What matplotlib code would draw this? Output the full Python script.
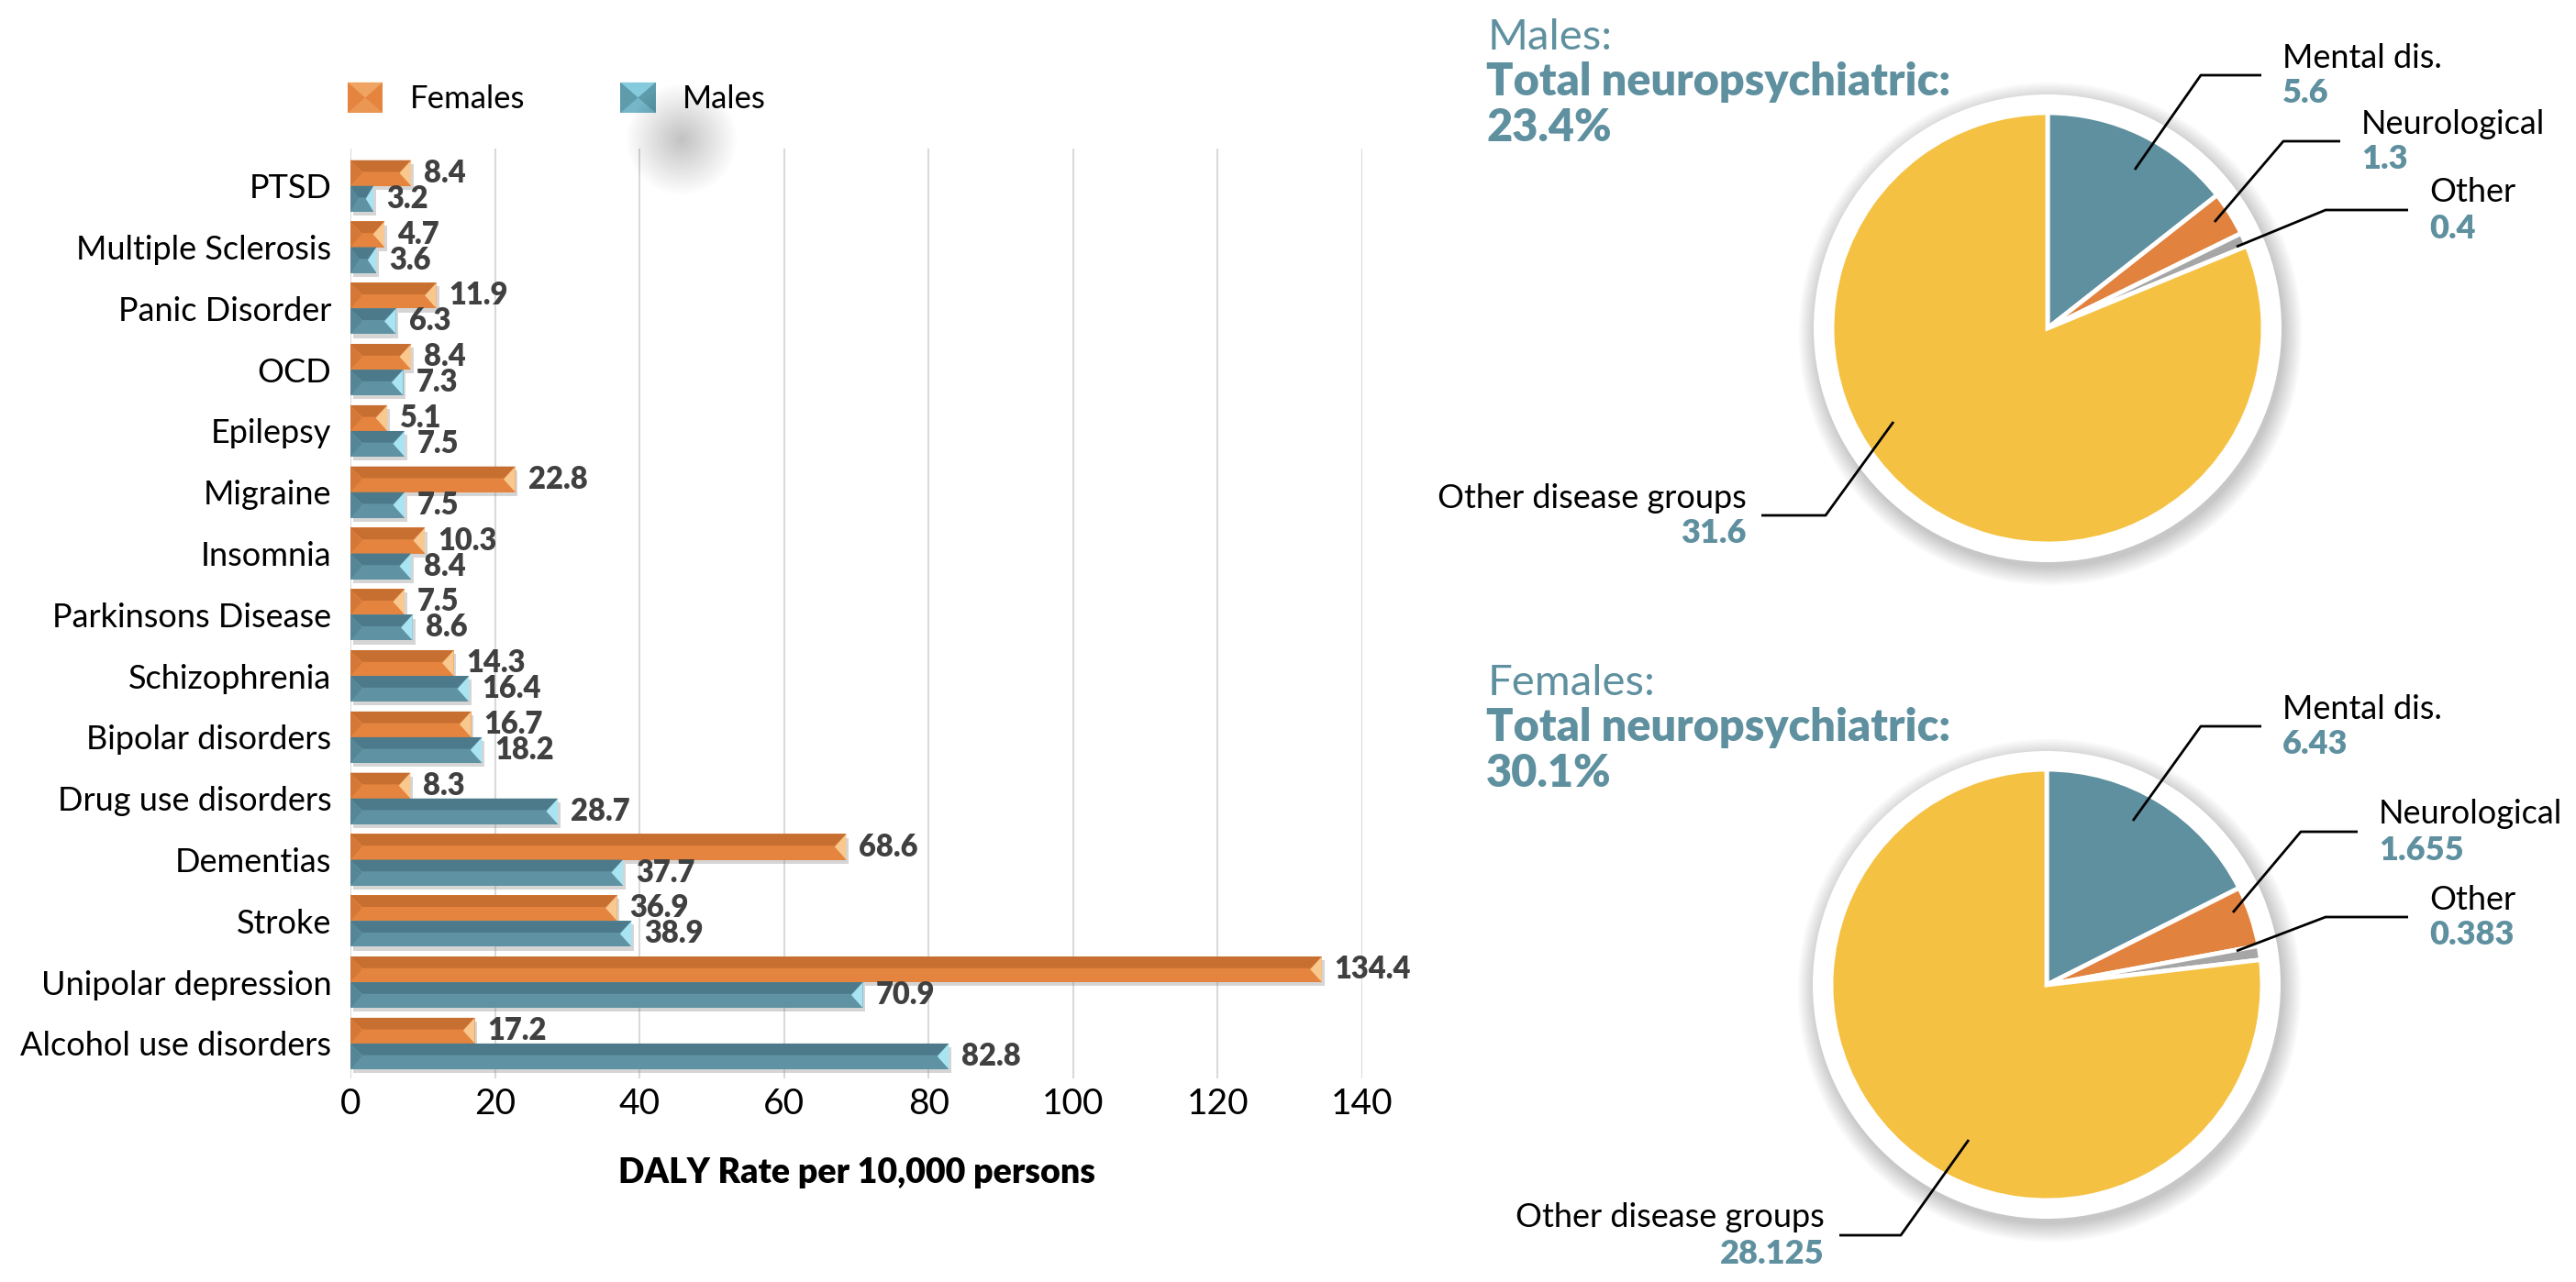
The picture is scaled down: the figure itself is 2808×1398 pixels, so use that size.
import numpy as np
import matplotlib
matplotlib.use("Agg")
import matplotlib.pyplot as plt
import matplotlib.patheffects as pe
from matplotlib.patches import Polygon, Circle, Patch, Rectangle
from matplotlib.legend_handler import HandlerBase

plt.rcParams['font.family'] = ['Lato', 'DejaVu Sans']

# ---- data ----
categories = ['PTSD', 'Multiple Sclerosis', 'Panic Disorder', 'OCD', 'Epilepsy',
              'Migraine', 'Insomnia', 'Parkinsons Disease', 'Schizophrenia',
              'Bipolar disorders', 'Drug use disorders', 'Dementias', 'Stroke',
              'Unipolar depression', 'Alcohol use disorders']
females = [8.4, 4.7, 11.9, 8.4, 5.1, 22.8, 10.3, 7.5, 14.3, 16.7, 8.3, 68.6, 36.9, 134.4, 17.2]
males = [3.2, 3.6, 6.3, 7.3, 7.5, 7.5, 8.4, 8.6, 16.4, 18.2, 28.7, 37.7, 38.9, 70.9, 82.8]
xticks = [0, 20, 40, 60, 80, 100, 120, 140]

pie_labels = ['Mental dis.', 'Neurological', 'Other', 'Other disease groups']
pie_males = [5.6, 1.3, 0.4, 31.6]
pie_females = [6.43, 1.655, 0.383, 28.125]
total_males = '23.4%'
total_females = '30.1%'

# ---- style ----
ORANGE, ORANGE_D, ORANGE_L = '#e4843f', '#c76e31', '#f8c88e'
TEAL, TEAL_D, TEAL_L = '#5f93a3', '#4c7a8a', '#a9e4f3'
PIE_COLORS = ['#5f909f', '#e1823f', '#a6a6a6', '#f5c142']
TXT_TEAL = '#5f909f'
W, H = 2808, 1398

fig = plt.figure(figsize=(W / 100, H / 100), dpi=100)

# ---------------- bar chart ----------------
ax = fig.add_axes([382 / W, 1 - 1176 / H, (1485 - 382) / W, (1176 - 162) / H])
n = len(categories)
ypos = np.arange(n)[::-1]
h = 0.42
shadow = [pe.SimplePatchShadow(offset=(2, -3), shadow_rgbFace='#888888', alpha=0.35), pe.Normal()]


def bevel_bars(yc, vals, main, dark, light):
    bars = ax.barh(yc, vals, height=h, color=main, zorder=3, path_effects=shadow)
    for y, v in zip(yc, vals):
        b = min(1.6, v / 3)
        top, bot = y + h / 2, y - h / 2
        ax.add_patch(Polygon([(0, top), (v, top), (v - b, y + 0.02), (b, y + 0.02)],
                             closed=True, color=dark, zorder=4, lw=0))
        ax.add_patch(Polygon([(0, top), (b, y), (0, bot)], closed=True,
                             color=dark, alpha=0.5, zorder=4, lw=0))
        ax.add_patch(Polygon([(v, top), (v - b, y), (v, bot)], closed=True,
                             color=light, zorder=5, lw=0))
        ax.annotate(f'{v:g}', (v, y), xytext=(10, 0), textcoords='offset points',
                    ha='left', va='center', fontsize=23.5, fontweight='heavy',
                    color='#404040', zorder=6)
    return bars


bevel_bars(ypos + h / 2, females, ORANGE, ORANGE_D, ORANGE_L)
bevel_bars(ypos - h / 2, males, TEAL, TEAL_D, TEAL_L)

ax.set_xlim(0, 140)
ax.set_ylim(-0.57, n - 1 + 0.61)
ax.set_xticks(xticks)
ax.set_yticks(ypos, categories)
ax.tick_params(axis='y', length=0, pad=15, labelsize=26)
ax.tick_params(axis='x', length=0, pad=7, labelsize=28)
ax.grid(axis='x', color='#d9d9d9', lw=1.5, zorder=0)
ax.set_axisbelow(True)
for s in ax.spines.values():
    s.set_visible(False)
ax.set_xlabel('DALY Rate per 10,000 persons', fontsize=27, fontweight='heavy', labelpad=29)


class BevelHandler(HandlerBase):
    def __init__(self, main, light):
        super().__init__()
        self.main, self.light = main, light

    def create_artists(self, legend, orig_handle, xdescent, ydescent, width, height, fontsize, trans):
        x0, y0 = -xdescent, -ydescent
        cx, cy = x0 + width / 2, y0 + height / 2
        sq = Rectangle((x0, y0), width, height, facecolor=self.main, lw=0, transform=trans)
        t1 = Polygon([(x0, y0 + height), (x0 + width, y0 + height), (cx, cy)],
                     facecolor=self.light, alpha=0.75, lw=0, transform=trans)
        t2 = Polygon([(x0, y0), (x0 + width, y0), (cx, cy)],
                     facecolor=self.light, alpha=0.45, lw=0, transform=trans)
        return [sq, t1, t2]


hf = Patch(facecolor=ORANGE, label='Females')
hm = Patch(facecolor=TEAL, label='Males')
ax.legend(handles=[hf, hm], ncol=2, frameon=False, fontsize=25,
          loc='center left', bbox_to_anchor=(379 / W, 1 - 107 / H),
          bbox_transform=fig.transFigure, borderaxespad=0, borderpad=0,
          handlelength=1.1, handleheight=1.1, handletextpad=0.85, columnspacing=3.0,
          handler_map={hf: BevelHandler(ORANGE, '#f4b06e'), hm: BevelHandler('#5e9bab', '#93dbee')})

# ---------------- pies ----------------
ov = fig.add_axes([0, 0, 1, 1])
ov.set_facecolor('none')

# faint blurred spot under the legend
for i in range(20):
    ov.add_patch(Circle((743, H - 152), 60 - 3 * i, color='black', alpha=0.012, lw=0))

R, RING = 235, 255


def draw_pie(vals, cx, cy, title, total, ty, leaders):
    cyf = H - cy
    for i in range(14):
        ov.add_patch(Circle((cx + 3, cyf - 6), RING + 1.5 * i, color='black',
                            alpha=0.014, lw=0, zorder=1))
    ov.add_patch(Circle((cx, cyf), RING, color='white', lw=0, zorder=2))
    wedges, _ = ov.pie(vals, colors=PIE_COLORS, startangle=90, counterclock=False,
                       center=(cx, cyf), radius=R, frame=True,
                       wedgeprops=dict(edgecolor='white', linewidth=3.5))
    for w in wedges:
        w.set_zorder(3)
    ov.text(1622, H - ty, title, fontsize=34, color=TXT_TEAL, va='center', ha='left')
    ov.text(1620, H - (ty + 49), 'Total neuropsychiatric:', fontsize=35,
            fontweight='heavy', color=TXT_TEAL, va='center', ha='left')
    ov.text(1620, H - (ty + 99), total, fontsize=35, fontweight='heavy',
            color=TXT_TEAL, va='center', ha='left')
    for lab, v, (tip, elbow, end, ly) in zip(pie_labels, vals, leaders):
        ov.plot([tip[0], elbow, end], [H - tip[1], H - ly, H - ly],
                color='black', lw=2, zorder=5, solid_capstyle='butt')
        if end > elbow:
            tx, ha = end + 23, 'left'
        else:
            tx, ha = end - 16, 'right'
        ov.text(tx, H - (ly - 19), lab, fontsize=26, color='black', ha=ha, va='center')
        ov.text(tx, H - (ly + 20), f'{v:g}', fontsize=26, fontweight='heavy',
                color=TXT_TEAL, ha=ha, va='center')


draw_pie(pie_males, 2232, 358, 'Males:', total_males, 41,
         [((2327, 185), 2399, 2465, 82),
          ((2414, 242), 2489, 2551, 154),
          ((2438, 269), 2535, 2625, 229),
          ((2064, 460), 1990, 1920, 562)])
draw_pie(pie_females, 2231, 1074, 'Females:', total_females, 745,
         [((2325, 895), 2399, 2465, 792),
          ((2434, 995), 2508, 2570, 907),
          ((2438, 1037), 2535, 2625, 1000),
          ((2146, 1243), 2072, 2005, 1347)])

ov.set_xlim(0, W)
ov.set_ylim(0, H)
ov.set_aspect('auto')
ov.axis('off')

fig.savefig('out.png', dpi=100, facecolor='white')
